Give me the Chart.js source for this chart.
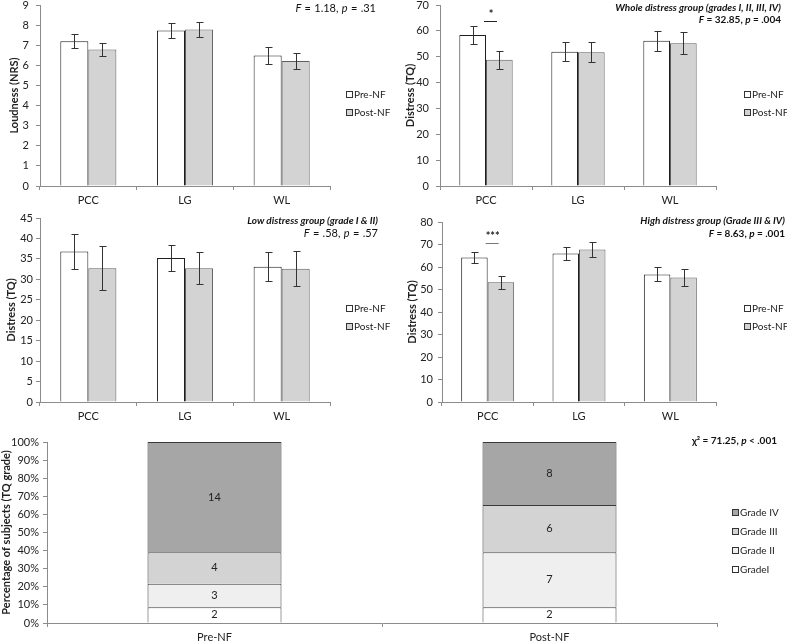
<!DOCTYPE html>
<html>
<head>
<meta charset="utf-8">
<script src="https://cdn.jsdelivr.net/npm/chart.js@4.4.0/dist/chart.umd.min.js"></script>
<style>
  body { margin: 0; background: #fff; }
  #wrap { position: relative; width: 787px; height: 641px; font-family: Lato, sans-serif; color: #111; }
  canvas { position: absolute; }
  .note { position: absolute; font-size: 10px; line-height: 12px; white-space: nowrap; text-align: right; }
  .r { font-size: 11px; word-spacing: 0.5px; }
  .b { font-weight: bold; }
  .bi { font-weight: bold; font-style: italic; }
</style>
</head>
<body>
<div id="wrap">
  <canvas id="loudness" width="400" height="210" style="left:0;top:0"></canvas>
  <canvas id="whole" width="397" height="210" style="left:390px;top:0"></canvas>
  <canvas id="low" width="400" height="215" style="left:0;top:210px"></canvas>
  <canvas id="high" width="397" height="215" style="left:390px;top:210px"></canvas>
  <canvas id="grades" width="787" height="216" style="left:0;top:425px"></canvas>

  <div class="note r" style="right:411px;top:2px"><i>F</i> = 1.18, <i>p</i> = .31</div>
  <div class="note bi" style="right:6px;top:1px">Whole distress group (grades I, II, III, IV)</div>
  <div class="note b" style="right:6px;top:13px"><i>F</i> = 32.85, <i>p</i> = .004</div>
  <div class="note bi" style="right:409px;top:214px">Low distress group (grade I &amp; II)</div>
  <div class="note r" style="right:409px;top:227px"><i>F</i> = .58, <i>p</i> = .57</div>
  <div class="note bi" style="right:2px;top:214px">High distress group (Grade III &amp; IV)</div>
  <div class="note b" style="right:2px;top:227px"><i>F</i> = 8.63, <i>p</i> = .001</div>
  <div class="note b" style="right:10px;top:434px">χ² = 71.25, <i>p</i> &lt; .001</div>
</div>
<script>
// ---- data ----
const regions = ['PCC', 'LG', 'WL'];

const loudPre = [7.2, 7.73, 6.49];
const loudPreErr = [0.35, 0.36, 0.4];
const loudPost = [6.79, 7.78, 6.22];
const loudPostErr = [0.34, 0.36, 0.38];

const wholePre = [58.4, 51.9, 56.2];
const wholePreErr = [3.4, 3.6, 3.9];
const wholePost = [48.8, 51.7, 55.2];
const wholePostErr = [3.6, 3.8, 4.2];

const lowPre = [36.8, 35.2, 33.1];
const lowPreErr = [4.3, 3.1, 3.5];
const lowPost = [32.7, 32.7, 32.6];
const lowPostErr = [5.4, 3.9, 4.3];

const highPre = [64.2, 66.0, 56.7];
const highPreErr = [2.3, 2.8, 3.1];
const highPost = [53.2, 67.8, 55.3];
const highPostErr = [2.9, 3.5, 3.9];

const phases = ['Pre-NF', 'Post-NF'];
const gradeI = [2, 2];
const gradeII = [3, 7];
const gradeIII = [4, 6];
const gradeIV = [14, 8];

// ---- setup ----
Chart.defaults.font.family = 'Lato, sans-serif';
Chart.defaults.font.size = 11;
Chart.defaults.color = '#222';
Chart.defaults.animation = false;

const AXIS = '#8c8c8c';

/**
 * Draw mean +/- error whiskers for datasets that carry an errors array
 */
const errorBars = {
  id: 'errorBars',
  afterDatasetsDraw(chart) {
    const ctx = chart.ctx;
    const y = chart.scales.y;
    chart.data.datasets.forEach((ds, di) => {
      if (!ds.errors) return;
      chart.getDatasetMeta(di).data.forEach((bar, i) => {
        const hi = Math.round(y.getPixelForValue(ds.data[i] + ds.errors[i])) + 0.5;
        const lo = Math.round(y.getPixelForValue(ds.data[i] - ds.errors[i])) + 0.5;
        const x = Math.round(bar.x) + 0.5;
        ctx.save();
        ctx.strokeStyle = '#333';
        ctx.lineWidth = 1;
        ctx.beginPath();
        ctx.moveTo(x, hi); ctx.lineTo(x, lo);
        ctx.moveTo(x - 3, hi); ctx.lineTo(x + 4, hi);
        ctx.moveTo(x - 3, lo); ctx.lineTo(x + 4, lo);
        ctx.stroke();
        ctx.restore();
      });
    });
  }
};

/**
 * Small square legend placed to the right of the plot
 */
const sideLegend = {
  id: 'sideLegend',
  afterDraw(chart, args, opts) {
    if (!opts.x) return;
    const ctx = chart.ctx;
    let items = chart.data.datasets.map(d => ({ label: d.label, fill: d.backgroundColor }));
    if (opts.reverse) items = items.reverse();
    ctx.save();
    items.forEach((it, k) => {
      const cy = Math.round(opts.y + k * opts.step);
      ctx.fillStyle = it.fill;
      ctx.fillRect(opts.x, cy - 3, 7, 7);
      ctx.strokeStyle = '#333';
      ctx.lineWidth = 1;
      ctx.strokeRect(opts.x + 0.5, cy - 2.5, 6, 6);
      ctx.fillStyle = '#222';
      ctx.font = '10px Lato, sans-serif';
      ctx.textBaseline = 'middle';
      ctx.fillText(it.label, opts.x + 8, cy + 1);
    });
    ctx.restore();
  }
};

/**
 * Significance bar with stars between the two bars of one category
 */
const sigMark = {
  id: 'sigMark',
  afterDatasetsDraw(chart, args, opts) {
    if (!opts.text) return;
    const ctx = chart.ctx;
    const x0 = chart.getDatasetMeta(0).data[opts.index].x;
    const x1 = chart.getDatasetMeta(1).data[opts.index].x;
    const mid = (x0 + x1) / 2;
    const y = Math.round(chart.scales.y.getPixelForValue(opts.value)) + 0.5;
    ctx.save();
    ctx.strokeStyle = opts.color || '#222';
    ctx.lineWidth = 1;
    ctx.beginPath();
    ctx.moveTo(mid - 2, y);
    ctx.lineTo(mid + 11, y);
    ctx.stroke();
    ctx.fillStyle = '#222';
    ctx.font = 'bold 11px Lato, sans-serif';
    ctx.textAlign = 'center';
    ctx.textBaseline = 'bottom';
    ctx.fillText(opts.text, mid + 5, y - 2);
    ctx.restore();
  }
};

/**
 * Write the subject count in the middle of each stacked segment
 */
const segLabels = {
  id: 'segLabels',
  afterDatasetsDraw(chart) {
    const ctx = chart.ctx;
    ctx.save();
    ctx.fillStyle = '#222';
    ctx.font = '11px Lato, sans-serif';
    ctx.textAlign = 'center';
    ctx.textBaseline = 'middle';
    chart.data.datasets.forEach((ds, di) => {
      chart.getDatasetMeta(di).data.forEach((bar, i) => {
        ctx.fillText(ds.counts[i], bar.x, (bar.y + bar.base) / 2);
      });
    });
    ctx.restore();
  }
};

function yAxis(max, step, title, titlePad, width, tickPad, fmt) {
  return {
    min: 0,
    max: max,
    ticks: { stepSize: step, padding: tickPad, callback: fmt || (v => v) },
    grid: { drawOnChartArea: false, drawTicks: true, tickLength: 4, color: AXIS },
    border: { color: AXIS },
    title: { display: true, text: title, font: { size: 11, weight: 'bold' }, color: '#222', padding: { top: titlePad, bottom: 0 } },
    afterFit(s) {
      // fixed axis width; let layout padding alone decide the plot top
      s.width = width;
      s.paddingTop = 0;
      s.paddingBottom = 0;
    }
  };
}

function xAxis(height) {
  return {
    ticks: { padding: 4 },
    grid: { offset: true, drawOnChartArea: false, drawTicks: true, tickLength: 4, color: AXIS },
    border: { color: AXIS },
    afterFit(s) {
      s.height = height;
      s.paddingLeft = 0;
      s.paddingRight = 0;
    }
  };
}

/**
 * Grouped pre/post bar chart with error bars
 */
function createPrePostChart(id, pre, preErr, post, postErr, cfg) {
  const ctx = document.getElementById(id).getContext('2d');
  return new Chart(ctx, {
    type: 'bar',
    data: {
      labels: regions,
      datasets: [
        { label: 'Pre-NF', data: pre, errors: preErr, backgroundColor: '#ffffff', borderColor: '#1e1e1e', borderWidth: 1, categoryPercentage: 0.58, barPercentage: 1 },
        { label: 'Post-NF', data: post, errors: postErr, backgroundColor: '#d3d3d3', borderColor: '#5e5e5e', borderWidth: 1, categoryPercentage: 0.58, barPercentage: 1 }
      ]
    },
    options: {
      responsive: false,
      layout: { padding: { top: cfg.top, right: cfg.right, left: 0, bottom: 0 } },
      scales: {
        x: xAxis(cfg.xh),
        y: yAxis(cfg.max, cfg.step, cfg.title, cfg.titlePad, cfg.yw, cfg.tickPad)
      },
      plugins: {
        legend: { display: false },
        tooltip: { enabled: false },
        sideLegend: { x: cfg.legX, y: cfg.legY, step: 18 },
        sigMark: cfg.sig || {}
      }
    },
    plugins: [errorBars, sideLegend, sigMark]
  });
}

createPrePostChart('loudness', loudPre, loudPreErr, loudPost, loudPostErr, {
  top: 5, right: 70, xh: 24, yw: 40, tickPad: 7, max: 9, step: 1, title: 'Loudness (NRS)', titlePad: 8, legX: 346, legY: 94
});

createPrePostChart('whole', wholePre, wholePreErr, wholePost, wholePostErr, {
  top: 5, right: 71, xh: 24, yw: 50, tickPad: 7, max: 70, step: 10, title: 'Distress (TQ)', titlePad: 14, legX: 354, legY: 94,
  sig: { index: 0, value: 63.8, text: '*' }
});

createPrePostChart('low', lowPre, lowPreErr, lowPost, lowPostErr, {
  top: 8, right: 70, xh: 23, yw: 40, tickPad: 3, max: 45, step: 5, title: 'Distress (TQ)', titlePad: 5, legX: 346, legY: 98
});

createPrePostChart('high', highPre, highPreErr, highPost, highPostErr, {
  top: 12, right: 71, xh: 23, yw: 52, tickPad: 5, max: 80, step: 10, title: 'Distress (TQ)', titlePad: 16, legX: 354, legY: 98,
  sig: { index: 0, value: 70.7, text: '***', color: '#777' }
});

// ---- grade distribution (100% stacked) ----
const totals = phases.map((p, i) => gradeI[i] + gradeII[i] + gradeIII[i] + gradeIV[i]);
const pct = arr => arr.map((c, i) => c / totals[i] * 100);

function gradeSet(label, counts, color) {
  return {
    label: label, data: pct(counts), counts: counts, backgroundColor: color, borderColor: '#3a3a3a',
    borderWidth: 1, categoryPercentage: 0.4, barPercentage: 1, stack: 'g'
  };
}

new Chart(document.getElementById('grades').getContext('2d'), {
  type: 'bar',
  data: {
    labels: phases,
    datasets: [
      gradeSet('GradeI', gradeI, '#ffffff'),
      gradeSet('Grade II', gradeII, '#efefef'),
      gradeSet('Grade III', gradeIII, '#d3d3d3'),
      gradeSet('Grade IV', gradeIV, '#a6a6a6')
    ]
  },
  options: {
    responsive: false,
    layout: { padding: { top: 17, right: 70, left: 0, bottom: 0 } },
    scales: {
      x: Object.assign(xAxis(18), { stacked: true }),
      y: Object.assign(yAxis(100, 10, 'Percentage of subjects (TQ grade)', 0, 47, 4, v => v + '%'), { stacked: true })
    },
    plugins: {
      legend: { display: false },
      tooltip: { enabled: false },
      sideLegend: { x: 732, y: 87, step: 19, reverse: true }
    }
  },
  plugins: [segLabels, sideLegend]
});
</script>
</body>
</html>
